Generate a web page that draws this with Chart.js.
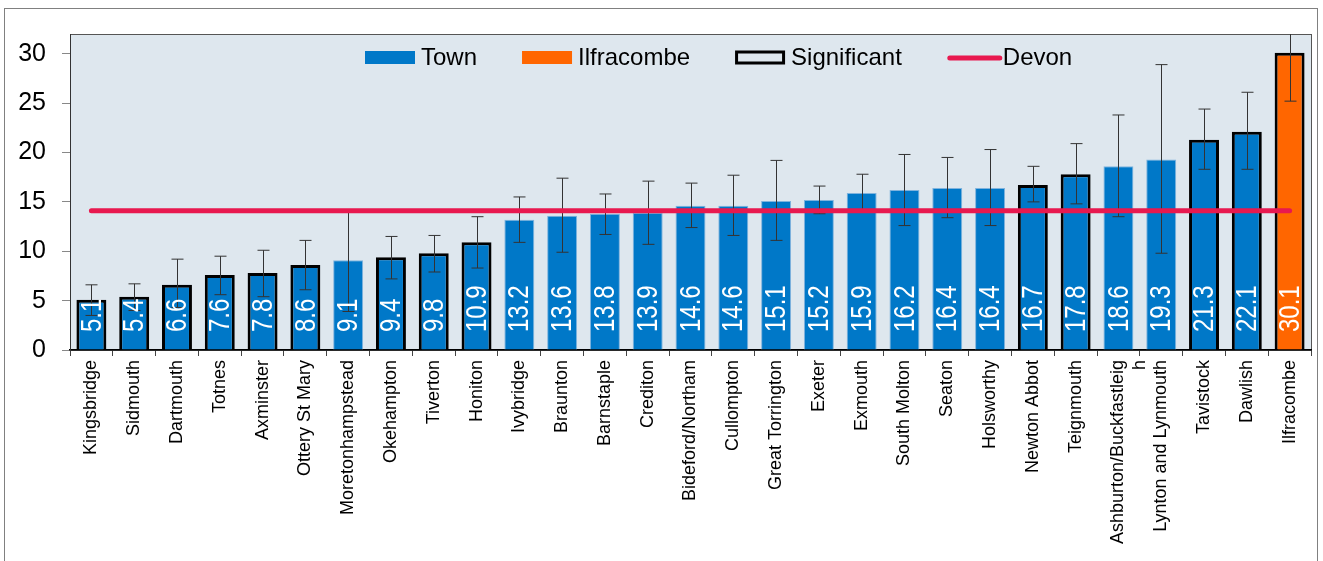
<!DOCTYPE html>
<html>
<head>
<meta charset="utf-8">
<script src="https://cdn.jsdelivr.net/npm/chart.js@4"></script>
<style>
  body { margin: 0; background: #fff; }
  canvas { display: block; }
</style>
</head>
<body>
<canvas id="myChart" width="1323" height="561"></canvas>
<script>
const towns = ['Kingsbridge', 'Sidmouth', 'Dartmouth', 'Totnes', 'Axminster', 'Ottery St Mary',
  'Moretonhampstead', 'Okehampton', 'Tiverton', 'Honiton', 'Ivybridge', 'Braunton', 'Barnstaple',
  'Crediton', 'Bideford/Northam', 'Cullompton', 'Great Torrington', 'Exeter', 'Exmouth',
  'South Molton', 'Seaton', 'Holsworthy', 'Newton Abbot', 'Teignmouth',
  ['Ashburton/Buckfastleig', 'h'], 'Lynton and Lynmouth', 'Tavistock', 'Dawlish', 'Ilfracombe'];
const rates = [5.1, 5.4, 6.6, 7.6, 7.8, 8.6, 9.1, 9.4, 9.8, 10.9, 13.2, 13.6, 13.8, 13.9, 14.6,
  14.6, 15.1, 15.2, 15.9, 16.2, 16.4, 16.4, 16.7, 17.8, 18.6, 19.3, 21.3, 22.1, 30.1];
const lowerCI = [3.5, 4.0, 4.3, 5.6, 5.4, 6.1, 3.9, 7.2, 7.9, 8.3, 10.9, 9.9, 11.7, 10.7, 12.4,
  11.6, 11.1, 13.8, 14.2, 12.6, 13.4, 12.6, 15.0, 14.8, 13.5, 9.8, 18.3, 18.3, 25.2];
const upperCI = [6.6, 6.7, 9.2, 9.5, 10.1, 11.1, 14.2, 11.5, 11.6, 13.5, 15.5, 17.4, 15.8, 17.1, 16.9,
  17.7, 19.2, 16.6, 17.8, 19.8, 19.5, 20.3, 18.6, 20.9, 23.8, 28.9, 24.4, 26.1, 35.0];
const significant = [1, 1, 1, 1, 1, 1, 0, 1, 1, 1, 0, 0, 0, 0, 0, 0, 0, 0, 0, 0, 0, 0, 1, 1, 0, 0, 1, 1, 1];
const devonRate = 14.1;
const yTicks = [0, 5, 10, 15, 20, 25, 30];

const BLUE = '#0078C8';
const ORANGE = '#FF6600';
const RED = '#E8194F';
const FONT = "'Liberation Sans', Arial, sans-serif";

const isIlfracombe = towns.map(t => t === 'Ilfracombe');

// plot background, outer frame
const backdrop = {
  id: 'backdrop',
  beforeDraw(chart) {
    const { ctx, chartArea: a } = chart;
    ctx.save();
    ctx.strokeStyle = '#808080';
    ctx.lineWidth = 1;
    ctx.strokeRect(4.5, 8.5, 1313, 600);
    ctx.fillStyle = '#DEE7EE';
    ctx.fillRect(a.left, a.top, a.right - a.left, a.bottom - a.top);
    ctx.strokeStyle = '#555';
    ctx.strokeRect(a.left + 0.5, a.top + 0.5, a.right - a.left, a.bottom - a.top);
    ctx.restore();
  }
};

// error bars + value labels drawn right after the bars
const errorBars = {
  id: 'errorBars',
  afterDatasetDraw(chart, args) {
    if (args.index !== 0) return;
    const { ctx, chartArea: a } = chart;
    const y = chart.scales.y;
    const meta = chart.getDatasetMeta(0);
    ctx.save();
    ctx.beginPath();
    ctx.rect(a.left, a.top, a.right - a.left, a.bottom - a.top);
    ctx.clip();
    ctx.strokeStyle = '#333';
    ctx.lineWidth = 1;
    meta.data.forEach((bar, i) => {
      const x = Math.round(bar.x) + 0.5;
      const yl = y.getPixelForValue(lowerCI[i]);
      const yu = y.getPixelForValue(upperCI[i]);
      ctx.beginPath();
      ctx.moveTo(x, yl); ctx.lineTo(x, yu);
      ctx.moveTo(x - 6, yl); ctx.lineTo(x + 6, yl);
      ctx.moveTo(x - 6, yu); ctx.lineTo(x + 6, yu);
      ctx.stroke();
    });
    ctx.restore();

    ctx.save();
    ctx.fillStyle = '#fff';
    ctx.font = '24px ' + FONT;
    ctx.textAlign = 'left';
    ctx.textBaseline = 'middle';
    meta.data.forEach((bar, i) => {
      ctx.save();
      ctx.translate(bar.x, y.getPixelForValue(0) - 18);
      ctx.rotate(-Math.PI / 2);
      ctx.scale(1, 1.2);
      ctx.fillText(rates[i].toFixed(1), 0, 1);
      ctx.restore();
    });
    ctx.restore();
  }
};

// legend inside the plot area
const insideLegend = {
  id: 'insideLegend',
  afterDraw(chart) {
    const { ctx, chartArea: a } = chart;
    const cy = a.top + 23;
    let x = a.left + 295;
    ctx.save();
    ctx.font = '24px ' + FONT;
    ctx.textBaseline = 'middle';
    ctx.fillStyle = '#000';
    const items = [
      { label: 'Town', kind: 'box', fill: BLUE },
      { label: 'Ilfracombe', kind: 'box', fill: ORANGE },
      { label: 'Significant', kind: 'outline' },
      { label: 'Devon', kind: 'line' }
    ];
    items.forEach(it => {
      if (it.kind === 'box') {
        ctx.fillStyle = it.fill;
        ctx.fillRect(x, cy - 6, 50, 13);
      } else if (it.kind === 'outline') {
        ctx.strokeStyle = '#000';
        ctx.lineWidth = 3;
        ctx.strokeRect(x + 1.5, cy - 5, 47, 11);
      } else {
        ctx.strokeStyle = RED;
        ctx.lineWidth = 5;
        ctx.lineCap = 'round';
        ctx.beginPath();
        ctx.moveTo(x + 3, cy + 1); ctx.lineTo(x + 53, cy + 1);
        ctx.stroke();
      }
      ctx.fillStyle = '#000';
      ctx.fillText(it.label, x + 56, cy + 1);
      x += 56 + ctx.measureText(it.label).width + 45;
    });
    ctx.restore();
  }
};

new Chart('myChart', {
  data: {
    labels: towns,
    datasets: [
      {
        type: 'bar',
        label: 'Town',
        data: rates,
        backgroundColor: isIlfracombe.map(f => f ? ORANGE : BLUE),
        borderColor: significant.map(s => s ? '#000' : '#7FB3DD'),
        borderWidth: significant.map(s => s ? 3 : 1),
        barPercentage: 0.7,
        categoryPercentage: 1,
        order: 2
      },
      {
        type: 'line',
        label: 'Devon',
        data: towns.map(() => devonRate),
        borderColor: RED,
        borderWidth: 5,
        borderCapStyle: 'round',
        pointRadius: 0,
        order: 1
      }
    ]
  },
  options: {
    responsive: false,
    animation: false,
    layout: { padding: { top: 34, right: 12, left: 0, bottom: 0 } },
    plugins: { legend: { display: false }, tooltip: { enabled: false } },
    scales: {
      x: {
        grid: { offset: true, drawOnChartArea: false, tickLength: 6, color: '#444' },
        border: { color: '#000', width: 1.5 },
        ticks: {
          autoSkip: false, maxRotation: 90, minRotation: 90, padding: 4,
          color: '#000', font: { family: FONT, size: 18 }
        },
        afterFit(scale) { scale.height = 211; }
      },
      y: {
        min: 0, max: 32,
        grid: { drawOnChartArea: false, tickLength: 8, color: '#888' },
        border: { color: '#333', width: 1 },
        ticks: { stepSize: 5, padding: 16, color: '#000', font: { family: FONT, size: 25 } },
        afterBuildTicks(scale) { scale.ticks = yTicks.map(v => ({ value: v })); },
        afterFit(scale) { scale.width = 70; }
      }
    }
  },
  plugins: [backdrop, errorBars, insideLegend]
});
</script>
</body>
</html>
